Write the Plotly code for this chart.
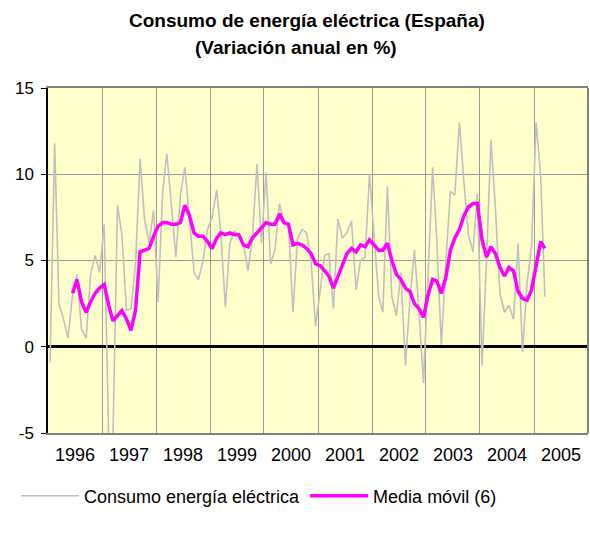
import pandas as pd
import plotly.graph_objects as go

# Monthly data, Jan 1996 - Mar 2005
start_month = "1996-01-01"
n_months = 111

consumo = [
    -0.9, 11.8, 2.5, 1.6, 0.5, 3.0, 4.2, 1.0, 0.5, 4.2, 5.3, 4.3,      # 1996
    7.1, -5.5, -5.5, 8.2, 6.5, 2.1, 2.2, 4.8, 10.9, 7.4, 6.0, 7.9,     # 1997
    2.6, 9.0, 11.2, 8.0, 5.2, 8.8, 10.4, 7.4, 4.3, 3.9, 5.0, 6.8,      # 1998
    7.5, 9.1, 6.6, 2.3, 6.0, 6.7, 6.5, 6.0, 4.4, 6.4, 10.6, 6.0,       # 1999
    10.1, 4.8, 5.6, 8.3, 7.2, 7.1, 2.0, 6.3, 6.8, 6.6, 4.9, 1.2,       # 2000
    3.3, 5.3, 5.4, 2.2, 7.4, 6.3, 6.6, 7.3, 3.3, 5.0, 5.2, 10.0,       # 2001
    6.4, 2.9, 2.0, 9.3, 2.9, 1.8, 4.3, -1.1, 2.8, 5.6, 2.0, -2.1,      # 2002
    4.1, 10.4, 6.2, 0.1, 4.9, 9.0, 8.8, 13.0, 9.5, 6.5, 5.5, 8.9,      # 2003
    -1.1, 5.1, 12.0, 8.0, 3.1, 2.0, 2.4, 1.6, 6.0, -0.3, 3.7, 5.8,     # 2004
    13.0, 9.9, 2.9,                                                    # 2005
]

media_movil = [
    None, None, None, None, None, 3.1, 3.9, 2.6, 2.0, 2.6, 3.1, 3.4,
    3.6, 2.4, 1.5, 1.8, 2.1, 1.6, 0.95, 2.1, 5.5, 5.6, 5.7, 6.4,
    7.0, 7.2, 7.2, 7.1, 7.1, 7.2, 8.2, 7.6, 6.6, 6.4, 6.4, 6.1,
    5.7, 6.3, 6.6, 6.5, 6.6, 6.5, 6.5, 5.9, 5.8, 6.3, 6.6, 6.9,
    7.2, 7.1, 7.1, 7.7, 7.2, 7.1, 5.9, 6.0, 5.9, 5.7, 5.4, 4.8,
    4.7, 4.4, 4.1, 3.4, 4.1, 4.8, 5.4, 5.7, 5.5, 5.9, 5.8, 6.2,
    5.9, 5.6, 5.6, 6.0, 5.0, 4.2, 3.9, 3.4, 3.2, 2.5, 2.2, 1.7,
    3.0, 3.9, 3.8, 3.1, 4.0, 5.6, 6.3, 6.8, 7.6, 8.1, 8.3, 8.3,
    6.2, 5.2, 5.8, 5.4, 4.6, 4.1, 4.6, 4.4, 3.2, 2.8, 2.7, 3.3,
    4.7, 6.1, 5.7,
]

year_labels = ["1996", "1997", "1998", "1999", "2000",
               "2001", "2002", "2003", "2004", "2005"]

y_tick_values = [-5, 0, 5, 10, 15]
y_tick_labels = ["-5", "0", "5", "10", "15"]

fechas = pd.date_range(start_month, periods=n_months, freq="MS") + pd.Timedelta(days=14)
year_starts = pd.date_range("1996-01-01", periods=len(year_labels) + 1, freq="YS")
year_mids = year_starts[:-1] + (year_starts[1:] - year_starts[:-1]) / 2

FONT = "Liberation Sans, Arial, sans-serif"

fig = go.Figure()
fig.add_trace(go.Scatter(
    x=fechas, y=consumo, mode="lines", name="Consumo energía eléctrica",
    line=dict(color="#C0C0C0", width=1.6),
))
fig.add_trace(go.Scatter(
    x=fechas, y=media_movil, mode="lines", name="Media móvil (6)",
    line=dict(color="#FF00FF", width=3.5),
))

fig.update_layout(
    width=590, height=539,
    margin=dict(l=48, r=2, t=88, b=106, autoexpand=False),
    paper_bgcolor="white",
    plot_bgcolor="#FFFFCC",
    font=dict(family=FONT, color="black", size=18),
    showlegend=True,
    legend=dict(
        orientation="h", xref="container", yref="container",
        x=16 / 590, xanchor="left",
        y=1 - 496 / 539, yanchor="middle",
        font=dict(size=18, family=FONT), itemwidth=58,
        bgcolor="rgba(0,0,0,0)",
    ),
    xaxis=dict(
        type="date",
        range=[year_starts[0], year_starts[-1]],
        tickmode="array", tickvals=year_mids, ticktext=year_labels,
        showgrid=False,
        minor=dict(tickmode="array", tickvals=year_starts, showgrid=True,
                   gridcolor="#999999", gridwidth=1, ticks=""),
        showline=True, linecolor="#808080", linewidth=2, mirror=True,
        ticks="", ticklabelstandoff=4,
        tickfont=dict(size=18, family=FONT),
        zeroline=False, automargin=False,
    ),
    yaxis=dict(
        range=[-5, 15],
        tickmode="array", tickvals=y_tick_values, ticktext=y_tick_labels,
        showgrid=True, gridcolor="#999999", gridwidth=1,
        zeroline=True, zerolinecolor="black", zerolinewidth=3,
        showline=True, linecolor="black", linewidth=1.5,
        ticks="outside", ticklen=5, tickcolor="black",
        tickfont=dict(size=17, family=FONT),
        ticklabelstandoff=4, automargin=False,
    ),
    shapes=[
        dict(type="line", xref="x domain", yref="y domain",
             x0=1, x1=1, y0=0, y1=1,
             line=dict(color="#808080", width=2)),
    ],
    annotations=[
        dict(text="<b>Consumo de energía eléctrica (España)</b>",
             xref="paper", yref="paper", x=0.48, y=1.0, yshift=68,
             xanchor="center", yanchor="middle", showarrow=False,
             font=dict(size=19, family=FONT)),
        dict(text="<b>(Variación anual en %)</b>",
             xref="paper", yref="paper", x=0.46, y=1.0, yshift=41,
             xanchor="center", yanchor="middle", showarrow=False,
             font=dict(size=19, family=FONT)),
    ],
)

fig.write_html(
    "out.html",
    config={"displayModeBar": False},
    post_script="document.body.style.margin='0';document.body.style.overflow='hidden';",
)
